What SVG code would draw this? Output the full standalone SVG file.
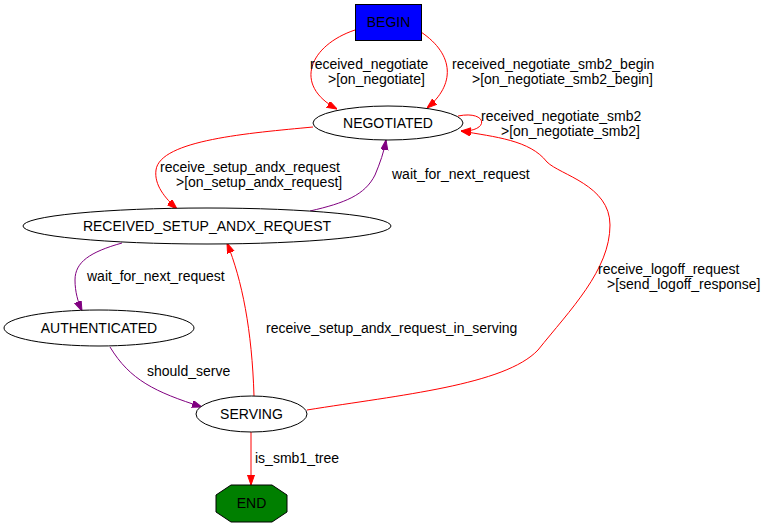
<svg xmlns="http://www.w3.org/2000/svg" width="776" height="525" viewBox="0 0 776 525">
<style>
text{font-family:"Liberation Sans",Arial,sans-serif;font-size:14px;fill:#000}
.n{text-anchor:middle}
.sh{stroke:#000;stroke-width:1}
.r{fill:none;stroke:#ff0000;stroke-width:1}
.p{fill:none;stroke:#800080;stroke-width:1}
</style>
<defs>
<marker id="ar" markerWidth="10" markerHeight="8" refX="10" refY="3.5" orient="auto" markerUnits="userSpaceOnUse"><path d="M0,0 L10,3.5 L0,7 z" fill="#ff0000" stroke="#ff0000"/></marker>
<marker id="ap" markerWidth="10" markerHeight="8" refX="10" refY="3.5" orient="auto" markerUnits="userSpaceOnUse"><path d="M0,0 L10,3.5 L0,7 z" fill="#800080" stroke="#800080"/></marker>
</defs>
<rect width="776" height="525" fill="#fff"/>
<g id="connectors">
<path class="r" marker-end="url(#ar)" d="M355,30 C310,45 292,85 337,109"/>
<path class="r" marker-end="url(#ar)" d="M421,32 C455,55 455,85 427,108"/>
<path class="r" marker-end="url(#ar)" d="M458,116 C488,110 490,132 461,131"/>
<path class="r" marker-end="url(#ar)" d="M313,127 C250,133 160,140 156,170 C154,185 165,198 177,209"/>
<path class="p" marker-end="url(#ap)" d="M310,211 C345,203 365,195 375,175 C380,163 384,152 386,140"/>
<path class="p" marker-end="url(#ap)" d="M122,243 C90,252 75,262 75,280 C75,292 78,302 82,311"/>
<path class="p" marker-end="url(#ap)" d="M110,347 C130,380 155,392 202,407"/>
<path class="r" marker-end="url(#ar)" d="M254,396 C252,330 242,280 227,243"/>
<path class="r" marker-end="url(#ar)" d="M307,410 C400,395 505,385 538,350 C570,310 610,270 610,225 C610,185 560,175 547,162 C530,140 495,137 461,131"/>
<path class="r" marker-end="url(#ar)" d="M251,432 L251,485"/>
</g>
<g id="edge-labels">
<text x="310" y="69">received_negotiate</text>
<text x="328" y="84">&gt;[on_negotiate]</text>
<text x="452" y="69">received_negotiate_smb2_begin</text>
<text x="472" y="84">&gt;[on_negotiate_smb2_begin]</text>
<text x="481" y="121">received_negotiate_smb2</text>
<text x="501" y="136">&gt;[on_negotiate_smb2]</text>
<text x="160" y="172">receive_setup_andx_request</text>
<text x="176" y="187">&gt;[on_setup_andx_request]</text>
<text x="392" y="179">wait_for_next_request</text>
<text x="87" y="281">wait_for_next_request</text>
<text x="147" y="376">should_serve</text>
<text x="266" y="333">receive_setup_andx_request_in_serving</text>
<text x="598" y="274">receive_logoff_request</text>
<text x="607" y="289">&gt;[send_logoff_response]</text>
<text x="255" y="463">is_smb1_tree</text>
</g>
<g id="BEGIN"><rect class="sh" x="355.5" y="4.5" width="66" height="36" fill="#0000ff"/><text class="n" x="388.5" y="27">BEGIN</text></g>
<g id="NEGOTIATED"><ellipse class="sh" cx="388" cy="123" rx="75" ry="17" fill="#fff"/><text class="n" x="388" y="128">NEGOTIATED</text></g>
<g id="RECEIVED_SETUP_ANDX_REQUEST"><ellipse class="sh" cx="207" cy="226" rx="184" ry="18" fill="#fff"/><text class="n" x="207" y="231">RECEIVED_SETUP_ANDX_REQUEST</text></g>
<g id="AUTHENTICATED"><ellipse class="sh" cx="99" cy="328" rx="95" ry="18" fill="#fff"/><text class="n" x="99" y="333">AUTHENTICATED</text></g>
<g id="SERVING"><ellipse class="sh" cx="251.5" cy="414" rx="55.5" ry="18" fill="#fff"/><text class="n" x="251.5" y="419">SERVING</text></g>
<g id="END"><polygon class="sh" points="231,485 272,485 287,495 287,512 272,522 231,522 216,512 216,495" fill="#007f00"/><text class="n" x="251.5" y="508">END</text></g>
</svg>
